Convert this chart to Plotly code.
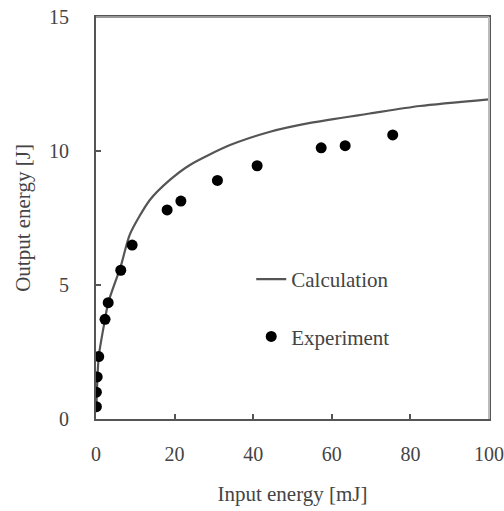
import plotly.graph_objects as go

# Experiment data (input energy mJ, output energy J)
exp_x = [0.1, 0.1, 0.3, 0.7, 2.3, 3.1, 6.3, 9.2, 18.1, 21.6, 30.9, 41.0, 57.3, 63.4, 75.5]
exp_y = [0.46, 1.0, 1.57, 2.33, 3.72, 4.34, 5.55, 6.49, 7.80, 8.13, 8.9, 9.45, 10.12, 10.2, 10.6]

# Calculation curve
calc_x = [0.1, 0.7, 2.3, 3.1, 6.3, 8.65, 13.7, 18.8, 23.9, 34.1, 44.3, 54.5, 69.7, 82.4, 100.0]
calc_y = [0.46, 2.33, 3.72, 4.34, 5.7, 6.9, 8.17, 8.92, 9.48, 10.22, 10.72, 11.05, 11.4, 11.68, 11.93]

x_ticks = [0, 20, 40, 60, 80, 100]
y_ticks = [0, 5, 10, 15]

font = dict(family="Liberation Serif, Times New Roman, serif", size=21, color="#444")
tick_font = dict(family="Liberation Serif, Times New Roman, serif", size=20, color="#444")

fig = go.Figure()
fig.add_trace(go.Scatter(x=calc_x, y=calc_y, mode="lines", name="Calculation",
                         line=dict(color="#555", width=2.2, shape="spline", smoothing=0.7),
                         legendgroup="a"))
fig.add_trace(go.Scatter(x=exp_x, y=exp_y, mode="markers", name="Experiment",
                         marker=dict(color="black", size=11), legendgroup="b"))

axis_common = dict(showgrid=False, zeroline=False, showline=True, linecolor="#555",
                   linewidth=2, mirror=True, ticks="inside", ticklen=5, tickwidth=1.5,
                   tickcolor="#555", tickfont=tick_font, automargin=False,
                   ticklabeloverflow="allow")
fig.update_xaxes(range=[0, 100], tickvals=x_ticks, ticktext=[str(v) for v in x_ticks],
                 ticklabelstandoff=16,
                 title=dict(text="Input energy [mJ]", font=font, standoff=22), **axis_common)
fig.update_yaxes(range=[0, 15], tickvals=y_ticks, ticktext=[str(v) for v in y_ticks],
                 ticklabelstandoff=21,
                 title=dict(text="Output energy [J]", font=font, standoff=13), **axis_common)

fig.add_shape(type="line", xref="paper", yref="paper", x0=0, x1=1, y0=1, y1=1,
              layer="above", line=dict(color="#999", width=2))
fig.add_shape(type="line", xref="paper", yref="paper", x0=1, x1=1, y0=0, y1=1,
              layer="above", line=dict(color="#bbb", width=2))

fig.update_layout(
    width=504, height=511,
    margin=dict(l=96, r=15, t=17, b=92),
    paper_bgcolor="white", plot_bgcolor="white",
    font=font,
    showlegend=True,
    legend=dict(x=0.395, y=0.398, xanchor="left", yanchor="top", bgcolor="rgba(0,0,0,0)",
                tracegroupgap=27, traceorder="grouped", font=font),
)

# remove the default 8px page margin so the figure sits at the window's corner
fig.write_html("out.html", config={"displayModeBar": False},
               post_script="document.body.style.margin='0px';document.body.style.overflow='hidden';")
